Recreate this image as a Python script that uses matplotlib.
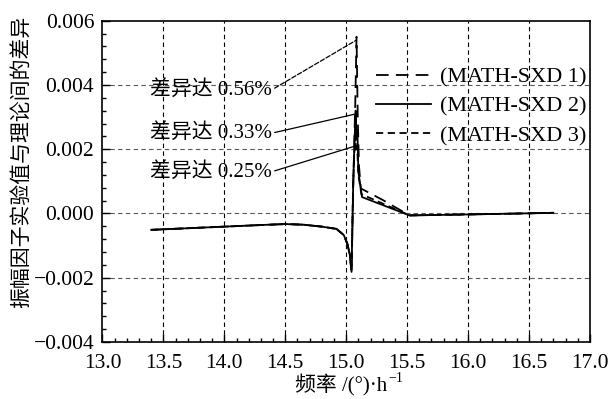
import numpy as np
import matplotlib.pyplot as plt
from matplotlib.ticker import MultipleLocator, FuncFormatter

plt.rcParams['font.family'] = ['Liberation Serif', 'Noto Sans CJK SC']

# shared low-frequency part and tail
base_x = [13.40, 13.70, 14.00, 14.30, 14.50, 14.65, 14.80, 14.92, 14.98, 15.01, 15.03, 15.044]
base_y = [-0.00051, -0.00046, -0.00041, -0.00036, -0.00033, -0.00035, -0.00041, -0.00048,
          -0.00067, -0.00095, -0.00128, -0.00182]
tail_x = [15.52, 15.70, 16.00, 16.30, 16.70]
tail_y = [-0.00006, -0.00005, -0.00003, -0.00001, 0.00002]

# spike region for each measurement
sxd1_x = [15.06, 15.075, 15.085, 15.095, 15.105, 15.12, 15.30, 15.40]
sxd1_y = [0.0012, 0.0035, 0.0055, 0.0030, 0.0015, 0.00078, 0.00042, 0.00020]
sxd2_x = [15.058, 15.07, 15.078, 15.085, 15.092, 15.10, 15.13]
sxd2_y = [0.0010, 0.0024, 0.0032, 0.0023, 0.0026, 0.0013, 0.00051]
sxd3_x = [15.057, 15.068, 15.075, 15.082, 15.09, 15.10, 15.125]
sxd3_y = [0.0009, 0.0020, 0.0024, 0.0019, 0.0021, 0.0012, 0.00060]

labels = ['(MATH-SXD 1)', '(MATH-SXD 2)', '(MATH-SXD 3)']
notes = ['差异达 0.56%', '差异达 0.33%', '差异达 0.25%']
note_pts = [(15.085, 0.0054), (15.08, 0.0031), (15.075, 0.0021)]

fig = plt.figure(figsize=(6.10, 3.99), dpi=100)
ax = fig.add_axes([0.168, 0.143, 0.799, 0.805])

series = [(sxd1_x, sxd1_y, (0, (7, 4))), (sxd2_x, sxd2_y, '-'), (sxd3_x, sxd3_y, (0, (4, 2.5)))]
for (sx, sy, ls), lab in zip(series, labels):
    x = base_x + sx + tail_x
    y = base_y + sy + tail_y
    ax.plot(x, y, color='black', lw=1.3, ls=ls, label=lab)

ax.set_xlim(13.0, 17.0)
ax.set_ylim(-0.004, 0.006)
ax.xaxis.set_major_locator(MultipleLocator(0.5))
ax.xaxis.set_minor_locator(MultipleLocator(0.1))
ax.yaxis.set_major_locator(MultipleLocator(0.002))
ax.yaxis.set_minor_locator(MultipleLocator(0.0004))
ax.xaxis.set_major_formatter(FuncFormatter(lambda v, p: f'{v:.1f}'))
ax.yaxis.set_major_formatter(FuncFormatter(lambda v, p: f'{v:.3f}'.replace('-', '\u2212')))
ax.tick_params(which='both', direction='in', top=False, right=False, labelsize=15.5)
ax.tick_params(which='major', length=6, width=1)
ax.tick_params(which='minor', length=3, width=1)
ax.tick_params(axis='x', which='major', pad=9)
ax.tick_params(axis='y', which='major', pad=6)
for s in ax.spines.values():
    s.set_linewidth(1.2)

for xv in np.arange(13.5, 16.6, 0.5):
    ax.axvline(xv, color='black', lw=0.8, ls=(0, (4, 3)), zorder=0)
for yv in [-0.002, 0.0, 0.002, 0.004]:
    ax.axhline(yv, color='0.35', lw=0.8, ls=(0, (4, 3)), zorder=0)

# x label: main text plus superscript
xl = ax.text(0.49, -0.10, '频率 /(°)·h', transform=ax.transAxes, fontsize=15,
             ha='center', va='top')
ax.annotate('\u22121', xy=(1.0, 1.0), xycoords=xl, xytext=(0.5, 1.5),
            textcoords='offset points', fontsize=10, ha='left', va='top')

ax.set_ylabel('振幅因子实验值与理论间的差异', fontsize=15)
ax.yaxis.set_label_coords(-0.145, 0.56)

text_y = [0.00385, 0.0025, 0.0013]
for note, (px, py), ty in zip(notes, note_pts, text_y):
    ax.annotate(note, xy=(px, py), xytext=(13.89, ty), fontsize=15,
                ha='center', va='center',
                arrowprops=dict(arrowstyle='-', color='black', lw=0.9,
                                ls='--' if note.endswith('0.56%') else '-',
                                shrinkA=0, shrinkB=0,
                                relpos=(1.0, 0.5)))

ax.legend(loc='upper left', bbox_to_anchor=(0.529, 0.905), frameon=False, fontsize=16,
          handlelength=2.5, handletextpad=0.4, labelspacing=0.4, borderpad=0.2)

fig.savefig('out.png', dpi=100)
